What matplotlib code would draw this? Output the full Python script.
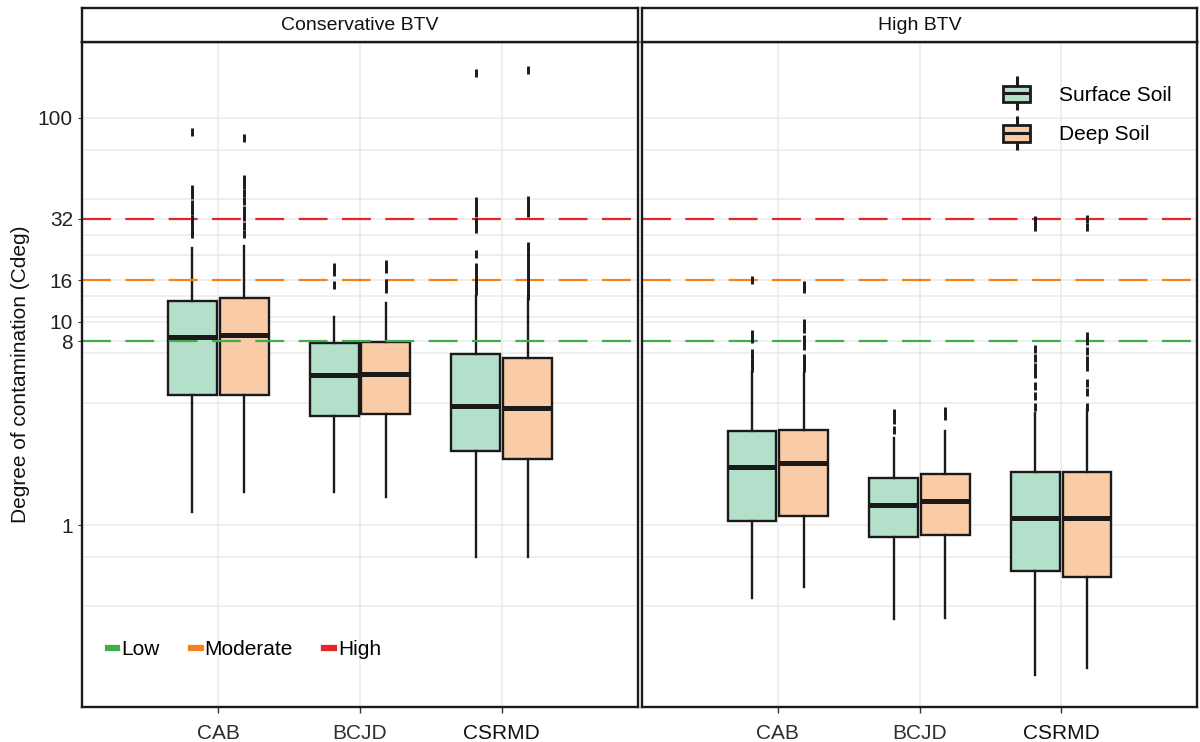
import numpy as np
import matplotlib.pyplot as plt
from matplotlib.patches import Patch
from matplotlib.lines import Line2D
from matplotlib.ticker import FixedLocator, NullFormatter

plt.rcParams['font.family'] = ['Liberation Sans', 'DejaVu Sans']

categories = ['CAB', 'BCJD', 'CSRMD']
panels = ['Conservative BTV', 'High BTV']
soils = ['Surface Soil', 'Deep Soil']

# Conservative BTV - surface soil
cons_surf_q1 = [4.35, 3.43, 2.31]
cons_surf_med = [8.4, 5.46, 3.84]
cons_surf_q3 = [12.6, 7.84, 6.92]
cons_surf_lo = [1.16, 1.45, 0.70]
cons_surf_hi = [23.0, 10.5, 13.3]
cons_surf_out = [[85, 45, 42, 38, 35, 32, 30, 28, 27],
                 [18.5, 17.6, 15.2],
                 [166, 39, 36.5, 34, 31, 28.5, 21.5, 18.5, 17.5, 16.2, 15.2, 14.2]]

# Conservative BTV - deep soil
cons_deep_q1 = [4.35, 3.51, 2.11]
cons_deep_med = [8.6, 5.52, 3.76]
cons_deep_q3 = [13.0, 7.93, 6.62]
cons_deep_lo = [1.45, 1.37, 0.70]
cons_deep_hi = [23.5, 12.3, 13.0]
cons_deep_out = [[80, 50, 47, 43, 39, 35.5, 32.5, 29.5, 27],
                 [19.2, 18.2, 15.5, 14.5],
                 [172, 39.5, 37, 34, 23.5, 22, 20.5, 19, 17.5, 16.2, 15, 14, 13.4]]

# High BTV - surface soil
high_surf_q1 = [1.05, 0.873, 0.594]
high_surf_med = [1.93, 1.25, 1.09]
high_surf_q3 = [2.90, 1.70, 1.82]
high_surf_lo = [0.438, 0.345, 0.183]
high_surf_hi = [5.65, 2.68, 3.55]
high_surf_out = [[16.0, 8.7, 8.2, 7.0, 6.6, 6.2, 5.9],
                 [3.55, 3.3, 2.95],
                 [31.5, 29, 7.3, 6.6, 6.0, 5.5, 4.8, 4.3, 3.8]]

# High BTV - deep soil
high_deep_q1 = [1.11, 0.90, 0.555]
high_deep_med = [2.01, 1.31, 1.08]
high_deep_q3 = [2.93, 1.78, 1.82]
high_deep_lo = [0.496, 0.349, 0.198]
high_deep_hi = [5.58, 2.90, 3.67]
high_deep_out = [[15.2, 14.4, 9.8, 9.2, 8.2, 7.6, 6.6, 6.2, 5.9],
                 [3.65, 3.45],
                 [32, 29, 8.5, 8.0, 7.2, 6.5, 6.0, 5.0, 4.5, 3.8]]

thresholds = [8, 16, 32]
threshold_names = ['Low', 'Moderate', 'High']
threshold_colors = ['#3db04b', '#f5821f', '#e3262a']

ytick_vals = [1, 8, 10, 16, 32, 100]
ygrid_minor = [0.40, 0.70, 4.0, 7.0, 10.5, 13.3, 21.2, 26.6, 40, 69.6]

green = '#b3dfcb'
orange = '#f9cba7'
dark = '#1a1a1a'


def make_stats(q1, med, q3, lo, hi, out):
    return [dict(q1=a, med=b, q3=c, whislo=d, whishi=e, fliers=f)
            for a, b, c, d, e, f in zip(q1, med, q3, lo, hi, out)]


data = [
    (make_stats(cons_surf_q1, cons_surf_med, cons_surf_q3, cons_surf_lo, cons_surf_hi, cons_surf_out),
     make_stats(cons_deep_q1, cons_deep_med, cons_deep_q3, cons_deep_lo, cons_deep_hi, cons_deep_out)),
    (make_stats(high_surf_q1, high_surf_med, high_surf_q3, high_surf_lo, high_surf_hi, high_surf_out),
     make_stats(high_deep_q1, high_deep_med, high_deep_q3, high_deep_lo, high_deep_hi, high_deep_out)),
]

W, H = 1200, 742
fig = plt.figure(figsize=(12, 7.42), dpi=100)
ax1 = fig.add_axes([82 / W, 1 - 707 / H, 556 / W, 665 / H])
ax2 = fig.add_axes([642 / W, 1 - 707 / H, 555 / W, 665 / H], sharey=ax1)
axes = [ax1, ax2]

x = np.arange(1, len(categories) + 1)
off = 0.183
bw = 0.345

for ax, (surf, deep) in zip(axes, data):
    for stats, pos, col in [(surf, x - off, green), (deep, x + off, orange)]:
        bp = ax.bxp(stats, positions=pos, widths=bw, patch_artist=True, showcaps=False,
                    boxprops=dict(facecolor=col, edgecolor=dark, linewidth=1.7),
                    medianprops=dict(color=dark, linewidth=3.6),
                    whiskerprops=dict(color=dark, linewidth=1.7),
                    flierprops=dict(marker='|', markersize=6, markeredgewidth=2.1,
                                    markeredgecolor=dark, linestyle='none'),
                    manage_ticks=False, zorder=2)
        for a in bp['fliers'] + bp['medians']:
            a.set_zorder(3)
    for t, c in zip(thresholds, threshold_colors):
        ax.axhline(t, color=c, lw=1.6, ls=(0, (13, 6.5)), zorder=2.5)

    ax.set_yscale('log')
    ax.set_ylim(0.128, 236)
    ax.set_xlim(0.04, 3.96)
    ax.yaxis.set_major_locator(FixedLocator(ytick_vals))
    ax.yaxis.set_minor_locator(FixedLocator(ygrid_minor))
    ax.yaxis.set_minor_formatter(NullFormatter())
    ax.set_yticklabels([str(v) for v in ytick_vals])
    ax.tick_params(axis='y', which='minor', length=0)
    ax.grid(True, which='both', color='#ebebeb', lw=1.1)
    ax.set_axisbelow(True)
    ax.set_xticks(x, categories)
    ax.tick_params(axis='x', length=4, width=1, color='#333333', labelsize=15, pad=8)
    for lab in ax.get_xticklabels():
        lab.set_color('#2e2e2e' if lab.get_text() != 'CSRMD' else '#111111')
    for sp in ax.spines.values():
        sp.set_linewidth(1.7)
        sp.set_color(dark)

ax1.tick_params(axis='y', which='major', length=3, color='#333333', labelsize=15, labelcolor='#222222')
ax2.tick_params(axis='y', which='both', left=False, labelleft=False)
ax1.set_ylabel('Degree of contamination (Cdeg)', fontsize=15, color='#111111', labelpad=6)

# facet strips
for ax, title in zip(axes, panels):
    pos = ax.get_position()
    sax = fig.add_axes([pos.x0, 1 - 42 / H, pos.width, 34 / H])
    sax.set_xticks([])
    sax.set_yticks([])
    for sp in sax.spines.values():
        sp.set_linewidth(1.7)
        sp.set_color(dark)
    sax.text(0.5, 0.5, title, ha='center', va='center', fontsize=14, color='#111111')

# threshold legend
th_handles = [Line2D([], [], color=c, lw=4.5) for c in threshold_colors]
ax1.legend(th_handles, threshold_names, loc='center left', bbox_to_anchor=(0.028, 0.086),
           ncol=3, frameon=False, fontsize=15, handlelength=0.45, handletextpad=0.2,
           columnspacing=1.5, borderpad=0)

# soil legend
soil_handles = []
for col in [green, orange]:
    soil_handles.append((
        Line2D([], [], marker='|', markersize=24, markeredgewidth=2.2, color=dark, ls='none'),
        Patch(facecolor=col, edgecolor=dark, lw=2),
        Line2D([], [], marker='_', markersize=19, markeredgewidth=2.2, color=dark, ls='none'),
    ))
ax2.legend(soil_handles, soils, loc='upper left', bbox_to_anchor=(0.632, 0.95),
           frameon=False, fontsize=15, handlelength=1.3, handleheight=0.85,
           handletextpad=1.4, labelspacing=0.95, borderpad=0)

plt.savefig('out.png', dpi=100)
